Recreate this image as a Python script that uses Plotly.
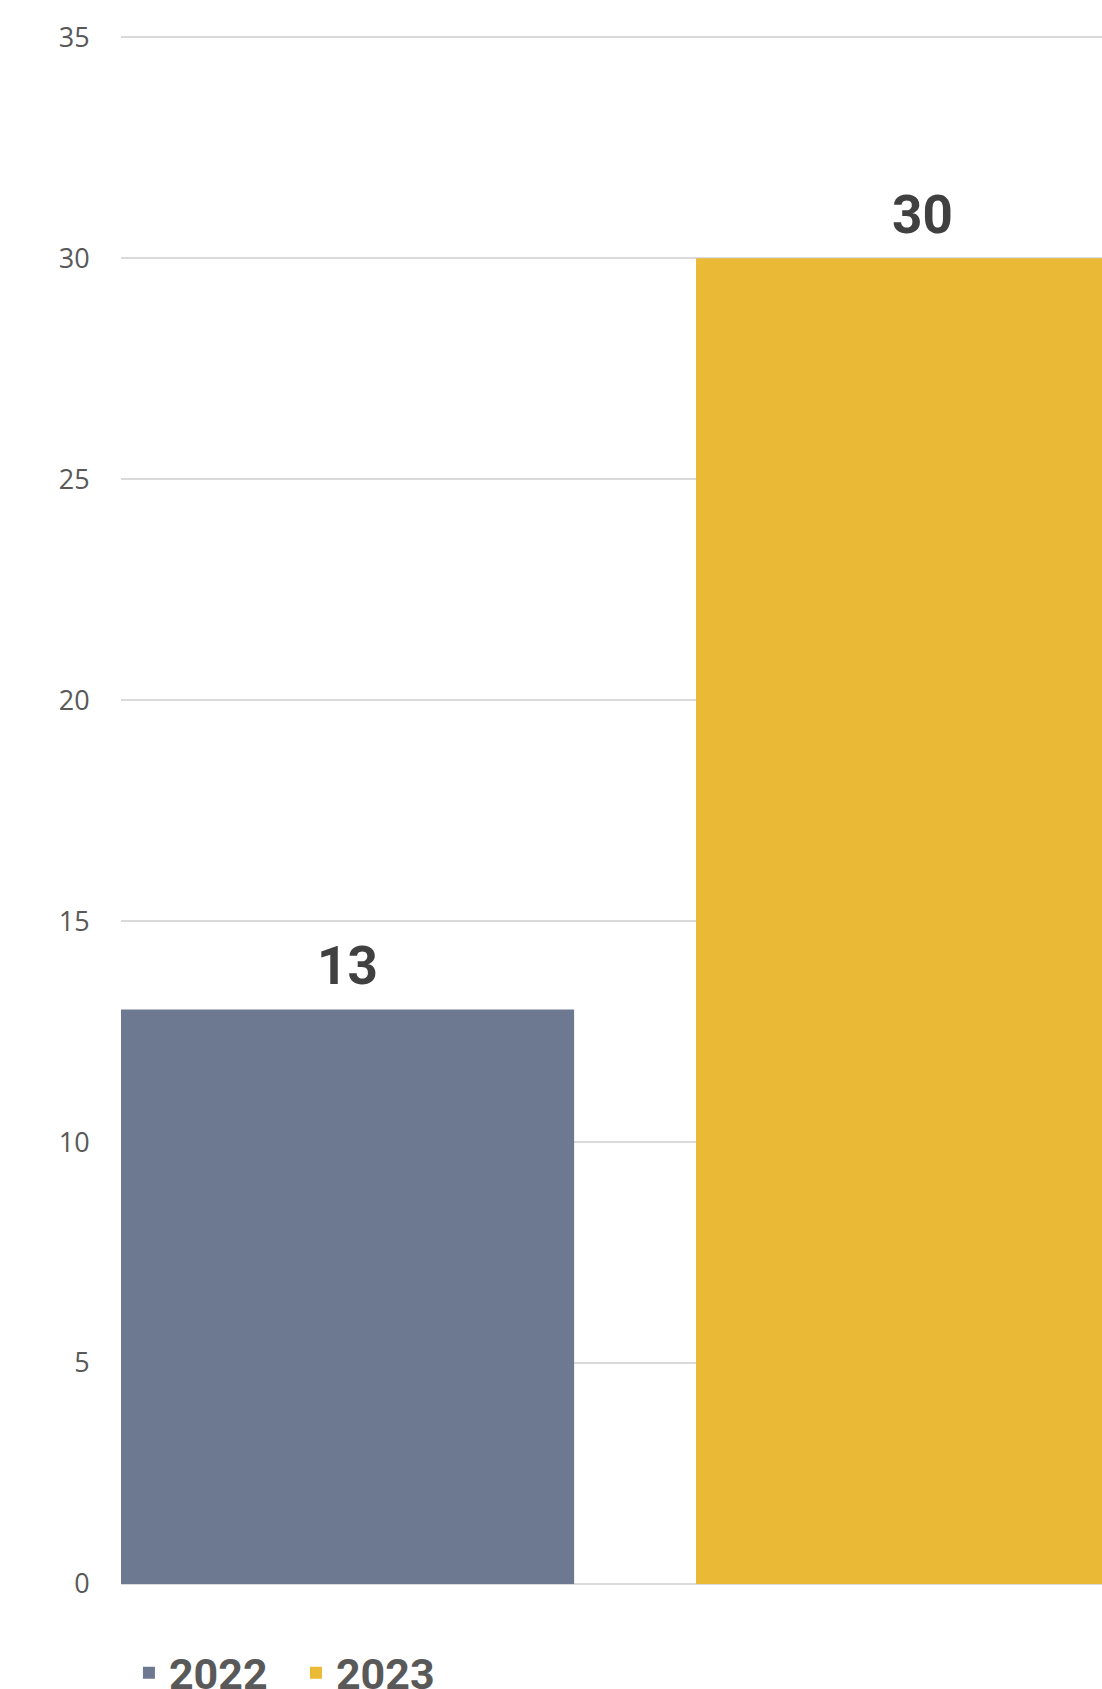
import plotly.graph_objects as go

# ---- data ----
series_names = ["2022", "2023"]
series_values = [13, 30]
series_colors = ["#6D7891", "#EAB935"]
y_ticks = [0, 5, 10, 15, 20, 25, 30, 35]

W, H = 1102, 1689
positions = [0, 1]
bar_width = 0.788

fig = go.Figure()
for name, val, col, pos in zip(series_names, series_values, series_colors, positions):
    fig.add_trace(go.Bar(
        x=[pos], y=[val], name=name, width=bar_width,
        marker=dict(color=col, line=dict(width=0)),
        hoverinfo="skip",
    ))
    fig.add_annotation(
        x=pos, y=val, xref="x", yref="y", text=f"<b>{val}</b>",
        showarrow=False, yanchor="bottom", yshift=10,
        font=dict(family="Roboto", size=53, color="#404040"),
    )

fig.update_layout(
    width=W, height=H,
    barmode="overlay",
    paper_bgcolor="#FFFFFF", plot_bgcolor="rgba(0,0,0,0)",
    margin=dict(l=121, r=0, t=35, b=105, pad=0, autoexpand=False),
    xaxis=dict(range=[-bar_width / 2, 1.312], showticklabels=False,
               showgrid=False, zeroline=False, showline=False, fixedrange=True),
    yaxis=dict(range=[0, 35.05], tickvals=y_ticks, showgrid=True,
               gridcolor="#DADADA", gridwidth=1.5,
               zeroline=True, zerolinecolor="#DADADA", zerolinewidth=1.5,
               showline=False, ticks="outside", ticklen=25,
               tickcolor="rgba(0,0,0,0)",
               tickfont=dict(family="Open Sans", size=27, color="#595959")),
    showlegend=True,
    legend=dict(orientation="h", xref="container", yref="paper",
                x=0.117, xanchor="left", y=-0.035, yanchor="top",
                font=dict(family="Roboto", size=43, color="#595959", weight="bold"),
                entrywidth=122,
                itemsizing="constant", traceorder="normal",
                bgcolor="rgba(0,0,0,0)"),
)

fig.write_html("out.html", config={"displayModeBar": False},
               post_script="document.body.style.margin='0';document.body.style.overflow='hidden';")
